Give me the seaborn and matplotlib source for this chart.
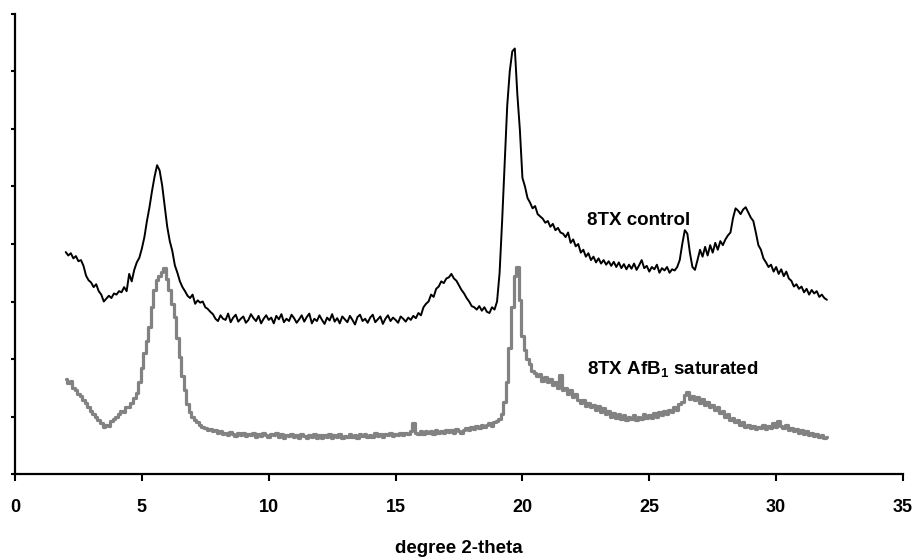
import numpy as np
import pandas as pd
import matplotlib
matplotlib.use("Agg")
import matplotlib.pyplot as plt
import seaborn as sns

# scan grid: 2.0 .. 32.0 degree 2-theta, step 0.1
two_theta = np.round(np.arange(20, 321) / 10.0, 1)

control = [
    386, 380, 384, 375, 379, 370, 372, 362, 345, 337,   # 2.0-2.9
    333, 325, 330, 318, 312, 300, 305, 310, 306, 314,   # 3.0-3.9
    312, 318, 316, 325, 318, 348, 335, 355, 368, 376,   # 4.0-4.9
    392, 412, 440, 464, 492, 517, 537, 528, 502, 466,   # 5.0-5.9
    430, 405, 388, 363, 350, 335, 325, 318, 310, 306,   # 6.0-6.9
    312, 296, 302, 298, 300, 290, 287, 282, 278, 270,   # 7.0-7.9
    266, 276, 270, 268, 279, 264, 272, 277, 265, 270,   # 8.0-8.9
    274, 263, 268, 278, 271, 266, 275, 262, 270, 276,   # 9.0-9.9
    268, 272, 262, 275, 269, 278, 264, 270, 266, 277,   # 10.0-10.9
    271, 263, 269, 276, 265, 273, 279, 262, 270, 266,   # 11.0-11.9
    276, 268, 261, 272, 267, 278, 265, 271, 262, 274,   # 12.0-12.9
    269, 264, 275, 268, 260, 273, 277, 266, 270, 263,   # 13.0-13.9
    272, 277, 264, 269, 274, 261, 270, 276, 266, 272,   # 14.0-14.9
    268, 263, 274, 270, 265, 272, 268, 275, 271, 280,   # 15.0-15.9
    276, 290, 296, 300, 312, 308, 322, 326, 335, 332,   # 16.0-16.9
    340, 342, 348, 340, 336, 328, 320, 314, 306, 300,   # 17.0-17.9
    292, 290, 286, 292, 284, 290, 282, 280, 290, 286,   # 18.0-18.9
    300, 350, 440, 541, 640, 700, 735, 740, 660, 598,   # 19.0-19.9
    515, 500, 480, 472, 462, 466, 452, 448, 444, 437,   # 20.0-20.9
    440, 430, 435, 424, 428, 420, 418, 412, 420, 402,   # 21.0-21.9
    408, 396, 400, 385, 390, 378, 384, 372, 378, 368,   # 22.0-22.9
    375, 366, 372, 364, 370, 362, 369, 360, 368, 358,   # 23.0-23.9
    365, 356, 364, 357, 366, 355, 363, 372, 358, 362,   # 24.0-24.9
    352, 360, 356, 364, 350, 358, 354, 360, 350, 356,   # 25.0-25.9
    354, 360, 372, 400, 424, 418, 385, 360, 355, 372,   # 26.0-26.9
    390, 378, 395, 380, 398, 385, 402, 390, 405, 398,   # 27.0-27.9
    408, 415, 420, 445, 462, 458, 452, 460, 464, 455,   # 28.0-28.9
    446, 440, 420, 398, 390, 375, 368, 360, 364, 352,   # 29.0-29.9
    360, 348, 356, 344, 352, 340, 336, 326, 330, 322,   # 30.0-30.9
    326, 316, 322, 312, 320, 314, 318, 308, 312, 306,   # 31.0-31.9
    303,                                                # 32.0
]

saturated = [
    165, 158, 162, 150, 146, 140, 136, 129, 124, 116,   # 2.0-2.9
    110, 104, 99, 94, 88, 82, 86, 84, 92, 96,           # 3.0-3.9
    99, 104, 110, 108, 116, 117, 124, 132, 141, 160,    # 4.0-4.9
    185, 210, 232, 256, 290, 320, 338, 345, 352, 358,   # 5.0-5.9
    340, 320, 296, 273, 236, 203, 170, 146, 122, 108,   # 6.0-6.9
    99, 94, 90, 86, 82, 80, 76, 78, 74, 76,             # 7.0-7.9
    72, 74, 70, 72, 68, 73, 69, 66, 71, 68,             # 8.0-8.9
    72, 66, 70, 67, 71, 65, 69, 66, 72, 67,             # 9.0-9.9
    64, 70, 67, 71, 65, 69, 62, 68, 66, 70,             # 10.0-10.9
    64, 68, 63, 70, 66, 62, 68, 64, 69, 63,             # 11.0-11.9
    67, 62, 68, 65, 70, 63, 67, 64, 69, 62,             # 12.0-12.9
    66, 64, 70, 65, 68, 63, 69, 66, 70, 64,             # 13.0-13.9
    68, 65, 71, 66, 69, 64, 70, 67, 72, 66,             # 14.0-14.9
    70, 67, 72, 68, 71, 69, 74, 88, 72, 70,             # 15.0-15.9
    74, 69, 75, 71, 74, 70, 76, 72, 75, 71,             # 16.0-16.9
    77, 73, 76, 72, 78, 74, 71, 76, 80, 76,             # 17.0-17.9
    82, 78, 84, 80, 86, 82, 85, 88, 84, 90,             # 18.0-18.9
    92, 96, 104, 125, 160, 220, 290, 345, 360, 303,     # 19.0-19.9
    240, 215, 200, 192, 180, 176, 170, 174, 162, 168,   # 20.0-20.9
    160, 166, 155, 160, 150, 172, 146, 150, 140, 146,   # 21.0-21.9
    134, 140, 128, 124, 128, 118, 124, 116, 120, 112,   # 22.0-22.9
    118, 108, 114, 104, 110, 100, 106, 98, 104, 96,     # 23.0-23.9
    102, 94, 100, 96, 102, 94, 100, 96, 104, 97,        # 24.0-24.9
    103, 98, 106, 100, 108, 102, 110, 104, 112, 108,    # 25.0-25.9
    116, 112, 122, 126, 138, 142, 130, 136, 128, 134,   # 26.0-26.9
    124, 130, 120, 126, 116, 120, 112, 116, 106, 110,   # 27.0-27.9
    100, 104, 94, 98, 90, 94, 86, 90, 82, 86,           # 28.0-28.9
    80, 84, 78, 82, 80, 85, 78, 84, 80, 88,             # 29.0-29.9
    82, 92, 84, 80, 85, 76, 80, 74, 78, 72,             # 30.0-30.9
    76, 70, 74, 68, 72, 66, 70, 65, 68, 63,             # 31.0-31.9
    64,                                                 # 32.0
]

x_ticks = [0, 5, 10, 15, 20, 25, 30, 35]
label_control = "8TX control"
label_saturated = r"8TX AfB$_\mathbf{1}$ saturated"
x_title = "degree 2-theta"

df = pd.DataFrame({"two_theta": two_theta, "control": control, "saturated": saturated})

sns.set_theme(style="white")
plt.rcParams["font.family"] = ["Liberation Sans", "DejaVu Sans"]
plt.rcParams["mathtext.fontset"] = "custom"
plt.rcParams["mathtext.rm"] = "Liberation Sans"
plt.rcParams["mathtext.bf"] = "Liberation Sans:bold"
plt.rcParams["text.color"] = "black"
plt.rcParams["axes.labelcolor"] = "black"

fig = plt.figure(figsize=(9.18, 5.57), dpi=100)
fig.patch.set_facecolor("white")
ax = fig.add_axes([15 / 918, 1 - 474 / 557, 888 / 918, 460 / 557])
ax.set_facecolor("white")

sns.lineplot(data=df, x="two_theta", y="saturated", ax=ax, color="#828282",
             linewidth=2.3, drawstyle="steps-mid", sort=False, estimator=None)
sns.lineplot(data=df, x="two_theta", y="control", ax=ax, color="black",
             linewidth=1.4, sort=False, estimator=None)

ax.set_xlim(0, 35)
ax.set_ylim(0, 800)
ax.set_xticks(x_ticks)
ax.set_xticklabels([str(t) for t in x_ticks], fontsize=13, fontweight="bold", color="black")
ax.set_yticks(range(0, 801, 100))
ax.set_yticklabels([])
ax.tick_params(axis="x", bottom=True, direction="out", length=5, width=1.5, pad=13, colors="black")
ax.tick_params(axis="y", left=True, direction="out", length=3, width=1.5, colors="black")
for s in ["top", "right"]:
    ax.spines[s].set_visible(False)
for s in ["left", "bottom"]:
    ax.spines[s].set_linewidth(1.6)
    ax.spines[s].set_color("black")

ax.set_xlabel(x_title, fontsize=13.5, fontweight="bold", labelpad=17, color="black")
ax.set_ylabel("")

ax.text(22.55, 433, label_control, fontsize=13.5, fontweight="bold", va="baseline", ha="left", color="black")
ax.text(22.55, 172, label_saturated, fontsize=13.5, fontweight="bold", va="baseline", ha="left", color="black")

fig.savefig("out.png", dpi=100)
